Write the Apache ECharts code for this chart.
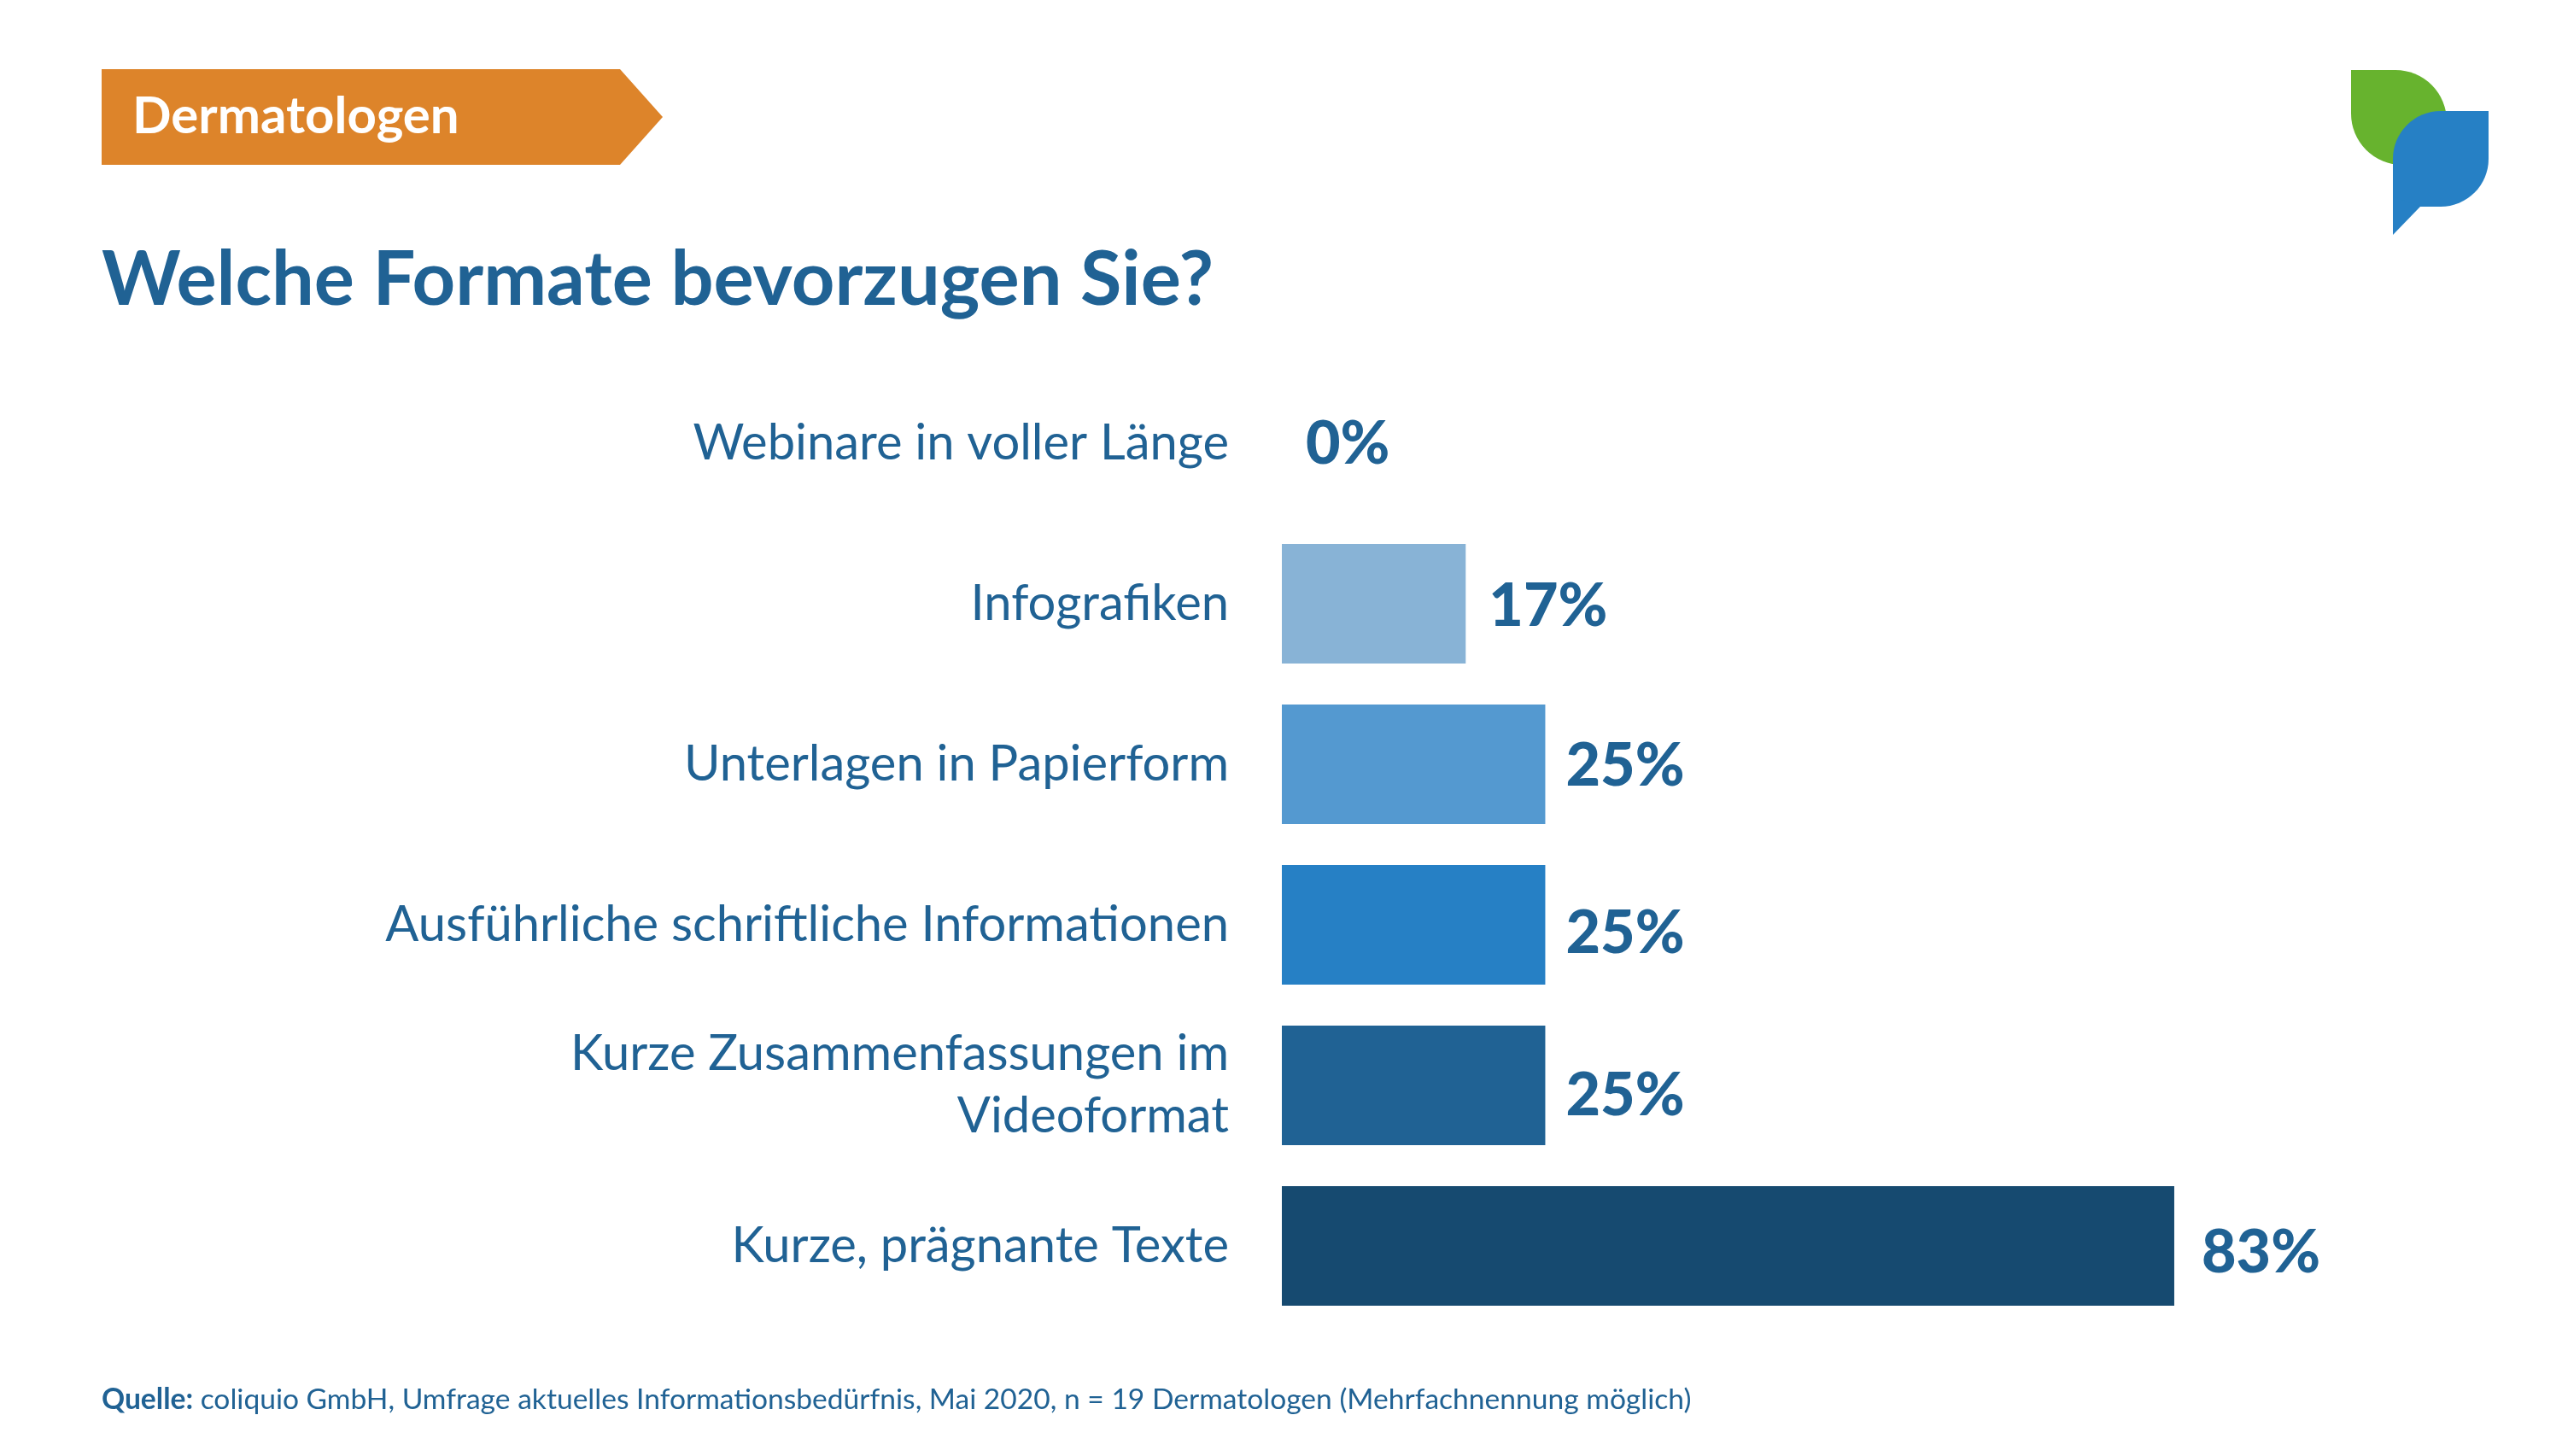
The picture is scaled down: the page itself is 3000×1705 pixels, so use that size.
<!DOCTYPE html>
<html><head><meta charset="utf-8">
<style>html,body{margin:0;padding:0;background:#fff}#c{width:3000px;height:1705px}</style>
<script src="https://cdn.jsdelivr.net/npm/echarts@6/dist/echarts.min.js"></script>
</head><body><div id="c"></div>
<script>
const categories = ['Kurze, prägnante Texte','Kurze Zusammenfassungen im\nVideoformat','Ausführliche schriftliche Informationen','Unterlagen in Papierform','Infografiken','Webinare in voller Länge'];
const barValues = [83, 24.5, 24.5, 24.5, 17.1, 0];
const valueLabels = ['83%','25%','25%','25%','17%','0%'];
const barColors = ['#164a70','#206294','#2680c5','#5499d0','#88b3d6','#88b3d6'];
const labelGaps = [32, 24, 24, 24, 27, 28];
const labelShifts = [8, 12, 10, 2, 3, 1];
const FONT = 'Lato';
const TEXT = '#206294';
const chart = echarts.init(document.getElementById('c'), null, {width:3000,height:1705,renderer:'canvas'});
chart.setOption({
  backgroundColor:'#fff',
  animation:false,
  title:[
    {text:'Welche Formate bevorzugen Sie?',left:119,top:285,padding:0,textStyle:{fontFamily:FONT,fontWeight:'bold',fontSize:88.3,color:TEXT}},
    {text:'Dermatologen',left:155,top:107,padding:0,textStyle:{fontFamily:FONT,fontWeight:'bold',fontSize:60,color:'#fff'}},
    {text:'{b|Quelle:} coliquio GmbH, Umfrage aktuelles Informationsbedürfnis, Mai 2020, n = 19 Dermatologen (Mehrfachnennung möglich)',left:119,top:1622,padding:0,
     textStyle:{fontFamily:FONT,fontWeight:'normal',fontSize:33.6,color:TEXT,rich:{b:{fontFamily:FONT,fontWeight:'bold',fontSize:33.6,color:TEXT}}}}
  ],
  grid:{left:1501,right:0,top:425,height:1128},
  xAxis:{type:'value',min:0,max:(3000-1501)/12.59,show:false},
  yAxis:{type:'category',data:categories,axisLine:{show:false},axisTick:{show:false},
    axisLabel:{fontFamily:FONT,fontSize:57.9,color:TEXT,margin:62,align:'right',lineHeight:73}},
  series:[{type:'bar',barWidth:140,
    data:barValues.map((v,i)=>({value:v,itemStyle:{color:barColors[i]},
      label:{formatter:valueLabels[i],distance:labelGaps[i],offset:[0,labelShifts[i]]}})),
    label:{show:true,position:'right',fontFamily:FONT,fontWeight:900,fontSize:70,color:TEXT}}],
  graphic:[
    {type:'polygon',shape:{points:[[119,81],[726,81],[776,137],[726,193],[119,193]]},style:{fill:'#dd842a'},z:-1},
    {type:'rect',shape:{x:2753,y:82,width:112,height:111,r:[0,60,0,60]},style:{fill:'#67b32e'},z:1},
    {type:'rect',shape:{x:2802,y:130,width:112,height:112,r:[56,0,56,0]},style:{fill:'#2680c5'},z:2},
    {type:'polygon',shape:{points:[[2802,230],[2834,242],[2802,275]]},style:{fill:'#2680c5'},z:2}
  ]
});
</script></body></html>
